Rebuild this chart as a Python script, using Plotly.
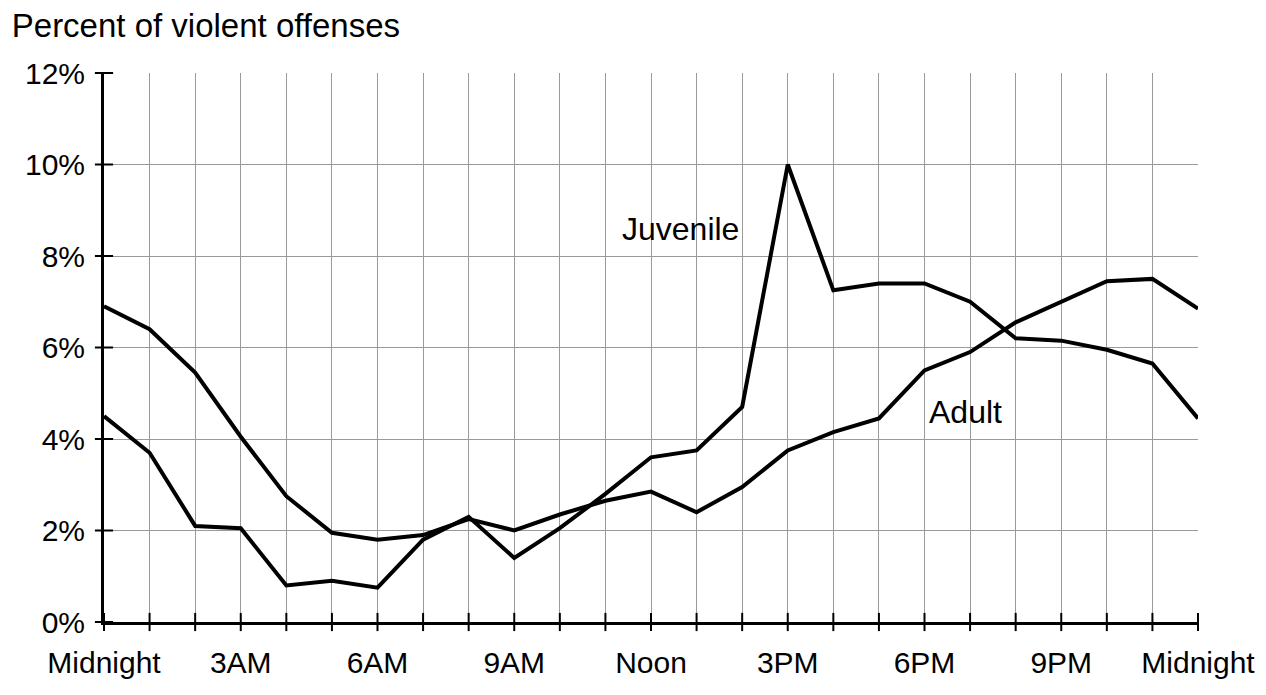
import plotly.graph_objects as go

hours = list(range(25))
hour_labels = ["Midnight", "", "", "3AM", "", "", "6AM", "", "", "9AM", "", "", "Noon",
               "", "", "3PM", "", "", "6PM", "", "", "9PM", "", "", "Midnight"]
juvenile = [4.5, 3.7, 2.1, 2.05, 0.8, 0.9, 0.75, 1.8, 2.3, 1.4, 2.05, 2.8, 3.6, 3.75, 4.7,
            10.0, 7.25, 7.4, 7.4, 7.0, 6.2, 6.15, 5.95, 5.65, 4.45]
adult = [6.9, 6.4, 5.45, 4.05, 2.75, 1.95, 1.8, 1.9, 2.25, 2.0, 2.35, 2.65, 2.85, 2.4, 2.95,
         3.75, 4.15, 4.45, 5.5, 5.9, 6.55, 7.0, 7.45, 7.5, 6.85]
y_ticks = [0, 2, 4, 6, 8, 10, 12]
y_labels = ["0%", "2%", "4%", "6%", "8%", "10%", "12%"]

FONT = "Arial, Liberation Sans, sans-serif"
GRID = "#9a9a9a"

fig = go.Figure()
fig.add_trace(go.Scatter(x=hours, y=adult, mode="lines", name="Adult",
                         line=dict(color="black", width=4), showlegend=False))
fig.add_trace(go.Scatter(x=hours, y=juvenile, mode="lines", name="Juvenile",
                         line=dict(color="black", width=4), showlegend=False))

# crossing tick marks on the axes
fig.add_trace(go.Scatter(x=hours, y=[0] * len(hours), mode="markers", cliponaxis=False,
                         marker=dict(symbol="line-ns", size=13, line=dict(color="black", width=2)),
                         hoverinfo="skip", showlegend=False))
fig.add_trace(go.Scatter(x=[0] * len(y_ticks), y=y_ticks, mode="markers", cliponaxis=False,
                         marker=dict(symbol="line-ew", size=13, line=dict(color="black", width=2)),
                         hoverinfo="skip", showlegend=False))

fig.add_annotation(x=12.65, y=8.6, text="Juvenile", showarrow=False,
                   font=dict(family=FONT, size=32, color="black"))
fig.add_annotation(x=18.9, y=4.6, text="Adult", showarrow=False,
                   font=dict(family=FONT, size=32, color="black"))

fig.update_layout(
    width=1258, height=687,
    margin=dict(l=96, r=68, t=65, b=73),
    paper_bgcolor="white", plot_bgcolor="white",
    title=dict(text="Percent of violent offenses", x=0.003, xanchor="left",
               y=0.975, yanchor="middle",
               font=dict(family=FONT, size=33, color="black")),
    xaxis=dict(range=[0, 24], tickvals=hours, ticktext=hour_labels,
               showgrid=True, gridcolor=GRID, gridwidth=1,
               showline=True, linecolor="black", linewidth=3,
               ticks="", ticklabelstandoff=12,
               tickfont=dict(family=FONT, size=30, color="black"),
               zeroline=False, fixedrange=True),
    yaxis=dict(range=[0, 12], tickvals=y_ticks, ticktext=y_labels,
               showgrid=True, gridcolor=GRID, gridwidth=1,
               showline=True, linecolor="black", linewidth=3,
               ticks="", ticklabelstandoff=10,
               tickfont=dict(family=FONT, size=30, color="black"),
               zeroline=False, fixedrange=True),
)

fig.write_html("out.html")
